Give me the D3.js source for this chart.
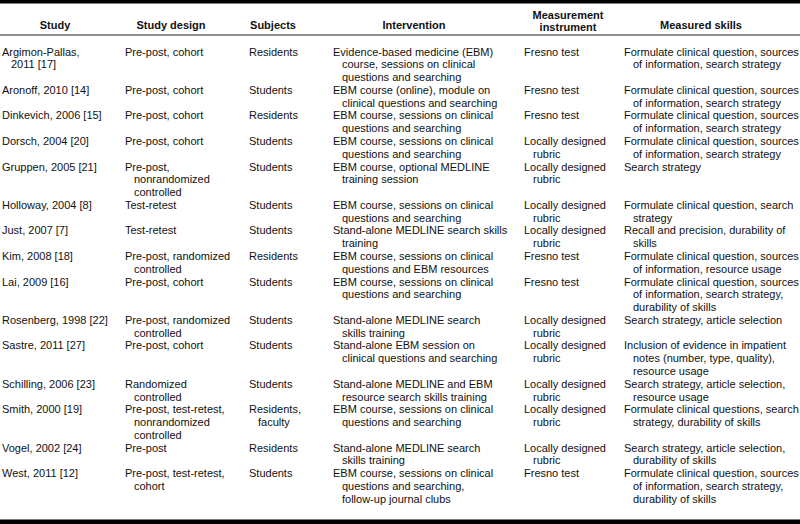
<!DOCTYPE html>
<html>
<head>
<meta charset="utf-8">
<script src="https://cdn.jsdelivr.net/npm/d3@7"></script>
<style>
  html, body { margin: 0; padding: 0; background: #fff; }
  svg { display: block; }
  text { font-family: "Liberation Sans", Arial, Helvetica, sans-serif; font-size: 11px; fill: #111; }
  .hdr { font-weight: bold; }
</style>
</head>
<body>
<svg id="chart" width="800" height="524"></svg>
<script>
// ---- Data (line breaks inside cells marked with "|") ----
const headers = ["Study", "Study design", "Subjects", "Intervention", "Measurement|instrument", "Measured skills"];

const studies = [
  "Argimon-Pallas,|2011 [17]", "Aronoff, 2010 [14]", "Dinkevich, 2006 [15]", "Dorsch, 2004 [20]",
  "Gruppen, 2005 [21]", "Holloway, 2004 [8]", "Just, 2007 [7]", "Kim, 2008 [18]", "Lai, 2009 [16]",
  "Rosenberg, 1998 [22]", "Sastre, 2011 [27]", "Schilling, 2006 [23]", "Smith, 2000 [19]",
  "Vogel, 2002 [24]", "West, 2011 [12]"
];

const designs = [
  "Pre-post, cohort", "Pre-post, cohort", "Pre-post, cohort", "Pre-post, cohort",
  "Pre-post,|nonrandomized|controlled", "Test-retest", "Test-retest", "Pre-post, randomized|controlled",
  "Pre-post, cohort", "Pre-post, randomized|controlled", "Pre-post, cohort", "Randomized|controlled",
  "Pre-post, test-retest,|nonrandomized|controlled", "Pre-post", "Pre-post, test-retest,|cohort"
];

const subjects = [
  "Residents", "Students", "Residents", "Students", "Students", "Students", "Students", "Residents",
  "Students", "Students", "Students", "Students", "Residents,|faculty", "Residents", "Students"
];

const interventions = [
  "Evidence-based medicine (EBM)|course, sessions on clinical|questions and searching",
  "EBM course (online), module on|clinical questions and searching",
  "EBM course, sessions on clinical|questions and searching",
  "EBM course, sessions on clinical|questions and searching",
  "EBM course, optional MEDLINE|training session",
  "EBM course, sessions on clinical|questions and searching",
  "Stand-alone MEDLINE search skills|training",
  "EBM course, sessions on clinical|questions and EBM resources",
  "EBM course, sessions on clinical|questions and searching",
  "Stand-alone MEDLINE search|skills training",
  "Stand-alone EBM session on|clinical questions and searching",
  "Stand-alone MEDLINE and EBM|resource search skills training",
  "EBM course, sessions on clinical|questions and searching",
  "Stand-alone MEDLINE search|skills training",
  "EBM course, sessions on clinical|questions and searching,|follow-up journal clubs"
];

const instruments = [
  "Fresno test", "Fresno test", "Fresno test", "Locally designed|rubric", "Locally designed|rubric",
  "Locally designed|rubric", "Locally designed|rubric", "Fresno test", "Fresno test",
  "Locally designed|rubric", "Locally designed|rubric", "Locally designed|rubric",
  "Locally designed|rubric", "Locally designed|rubric", "Fresno test"
];

const skills = [
  "Formulate clinical question, sources|of information, search strategy",
  "Formulate clinical question, sources|of information, search strategy",
  "Formulate clinical question, sources|of information, search strategy",
  "Formulate clinical question, sources|of information, search strategy",
  "Search strategy",
  "Formulate clinical question, search|strategy",
  "Recall and precision, durability of|skills",
  "Formulate clinical question, sources|of information, resource usage",
  "Formulate clinical question, sources|of information, search strategy,|durability of skills",
  "Search strategy, article selection",
  "Inclusion of evidence in impatient|notes (number, type, quality),|resource usage",
  "Search strategy, article selection,|resource usage",
  "Formulate clinical questions, search|strategy, durability of skills",
  "Search strategy, article selection,|durability of skills",
  "Formulate clinical question, sources|of information, search strategy,|durability of skills"
];

// ---- Layout ----
const W = 800, H = 524;
const colX = [2, 125, 249, 333, 524, 624];        // left text edge of each column
const hdrCenter = [55, 171, 273, 414, 568, 701];  // header centre per column
const indent = 9;
const lineH = 12.78;
const firstBaseline = 55.5;

const columns = [studies, designs, subjects, interventions, instruments, skills];
const rows = studies.map((_, i) => columns.map(c => c[i].split("|")));
const rowLines = rows.map(r => d3.max(r, c => c.length));
const offsets = [];
rowLines.reduce((acc, n, i) => { offsets[i] = acc; return acc + n; }, 0);
const totalLines = d3.sum(rowLines);

const yLine = d3.scaleLinear().domain([0, totalLines]).range([firstBaseline, firstBaseline + totalLines * lineH]);

const svg = d3.select("#chart");

// rules
svg.append("rect").attr("x", 0).attr("y", 0).attr("width", W).attr("height", 3.5).attr("fill", "#000");
svg.append("rect").attr("x", 0).attr("y", 34.5).attr("width", W).attr("height", 1).attr("fill", "#222");
svg.append("rect").attr("x", 0).attr("y", 519.5).attr("width", W).attr("height", 4.5).attr("fill", "#000");

// headers
headers.forEach((h, j) => {
  const parts = h.split("|");
  const t = svg.append("text").attr("class", "hdr").attr("text-anchor", "middle");
  const base = parts.length === 1 ? 28.5 : 18.5;
  parts.forEach((p, k) => {
    t.append("tspan").attr("x", hdrCenter[j]).attr("y", base + k * 12.8).text(p);
  });
});

// body
const rowG = svg.selectAll("g.row").data(rows).join("g").attr("class", "row");
rowG.each(function(r, i) {
  const g = d3.select(this);
  r.forEach((cellLines, j) => {
    cellLines.forEach((ln, k) => {
      g.append("text")
        .attr("x", colX[j] + (k > 0 ? indent : 0))
        .attr("y", yLine(offsets[i] + k))
        .text(ln);
    });
  });
});
</script>
</body>
</html>
